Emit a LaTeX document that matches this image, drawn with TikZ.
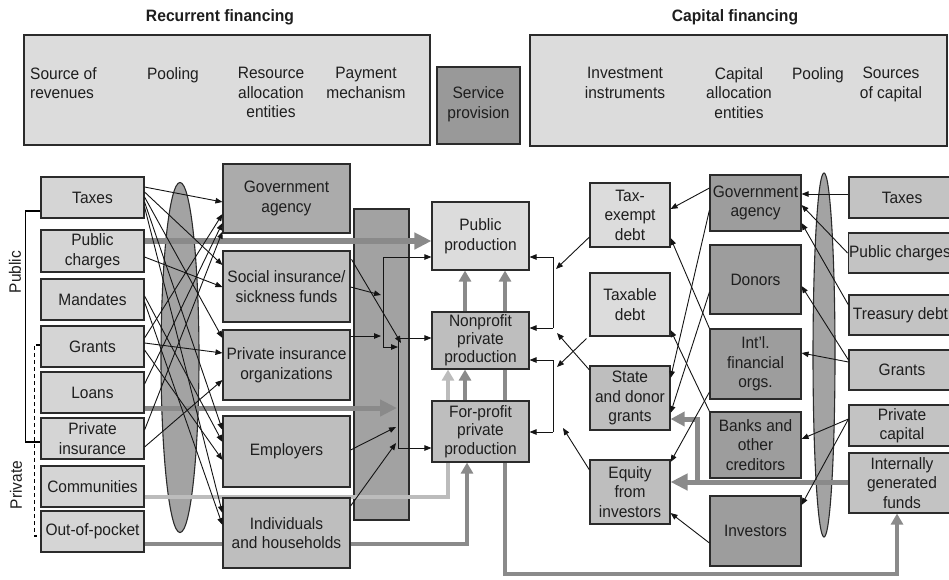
\documentclass[tikz,border=0pt]{standalone}
\usepackage{fontspec}
\setmainfont{Liberation Sans}[FakeStretch=0.94]
\newfontfamily\hdfont{Liberation Sans}[FakeStretch=0.95]
\usetikzlibrary{arrows.meta,calc,shapes.geometric}
\pgfdeclarelayer{back}\pgfdeclarelayer{mid}\pgfsetlayers{back,mid,main}
\definecolor{lightf}{HTML}{DCDCDC}
\definecolor{srcl}{HTML}{D5D5D5}
\definecolor{midf}{HTML}{BEBEBE}
\definecolor{allocg}{HTML}{ABABAB}
\definecolor{barf}{HTML}{A2A2A2}
\definecolor{svcf}{HTML}{999999}
\definecolor{cdark}{HTML}{9D9D9D}
\definecolor{rsrc}{HTML}{C3C3C3}
\definecolor{ellf}{HTML}{A3A3A3}
\definecolor{edge}{HTML}{2B2B2B}
\definecolor{gthick}{HTML}{8A8A8A}
\definecolor{glight}{HTML}{BCBCBC}
\definecolor{txt}{HTML}{1E1E1E}
\tikzset{
  bx/.style={draw=edge, line width=1.1pt, inner sep=1pt, align=center, text=txt,
             font=\fontsize{16.5}{19.5}\selectfont},
  sz/.style 2 args={minimum width=#1pt, minimum height=#2pt},
  lbl/.style={inner sep=0pt, align=center, text=txt, font=\fontsize{16.5}{19.5}\selectfont},
  ttl/.style={inner sep=0pt, text=txt, font=\hdfont\bfseries\fontsize{16.5}{19}\selectfont},
  tline/.style={draw=black!92, line width=0.9pt},
  tarrow/.style={tline, -{Triangle[length=7pt,width=5.5pt]}},
  garrow/.style={draw=gthick, line width=5.5pt, -{Triangle[length=17pt,width=16pt]}},
  gup/.style={draw=gthick, line width=4.5pt, -{Triangle[length=11pt,width=12pt]}},
  lup/.style={draw=glight, line width=4pt, -{Triangle[length=11pt,width=12pt]}},
}
\begin{document}
\begin{tikzpicture}[x=1pt,y=-1pt]
\useasboundingbox (0,0) rectangle (949,579);

% ---------- headers ----------
\node[ttl] (rf) at (220,17) {Recurrent financing};
\node[ttl] (cf) at (735,17) {Capital financing};
\node[bx, fill=lightf, sz={406}{110}] (rec) at (227,90) {};
\node[bx, fill=svcf, sz={83}{77}] (svc) at (478.5,105.5) {};
\node[bx, fill=lightf, sz={417}{111}] (cap) at (738.5,90.5) {};
\node[lbl, align=left, anchor=north west] (h1) at (30,67) {Source of\\revenues};
\node[lbl, anchor=north] (h2) at (173,67) {Pooling};
\node[lbl, anchor=north] (h3) at (271,67) {Resource\\allocation\\entities};
\node[lbl, anchor=north] (h4) at (366,67) {Payment\\mechanism};
\node[lbl, anchor=north] (h5) at (478.5,86.5) {Service\\provision};
\node[lbl, anchor=north] (h6) at (625,67) {Investment\\instruments};
\node[lbl, anchor=north] (h7) at (739,67) {Capital\\allocation\\entities};
\node[lbl, anchor=north] (h8) at (818,67) {Pooling};
\node[lbl, anchor=north] (h9) at (891,67) {Sources\\of capital};

% ---------- left sources ----------
\node[bx, fill=srcl, sz={103}{41}] (taxes) at (92.5,197.5) {Taxes};
\node[bx, fill=srcl, sz={103}{42}] (pubch) at (92.5,251) {Public\\charges};
\node[bx, fill=srcl, sz={103}{41}] (mand) at (92.5,299.5) {Mandates};
\node[bx, fill=srcl, sz={103}{41}] (grants) at (92.5,346.5) {Grants};
\node[bx, fill=srcl, sz={103}{41}] (loans) at (92.5,392.5) {Loans};
\node[bx, fill=srcl, sz={103}{41}] (pins) at (92.5,438.5) {Private\\insurance};
\node[bx, fill=srcl, sz={103}{41}] (comm) at (92.5,486.5) {Communities};
\node[bx, fill=srcl, sz={103}{41}] (oop) at (92.5,531.5) {Out-of-pocket};

\node[lbl, rotate=90] (publbl) at (15,272) {Public};
\node[lbl, rotate=90] (privlbl) at (16,485) {Private};
\draw[line width=1.4pt, black] ($(taxes.west)+(0,13.5)$) -- ++(-15,0) |- ($(pins.west)+(0,3.5)$);
\draw[line width=1.2pt, black, dash pattern=on 4pt off 3pt] ($(grants.west)+(0,-1.5)$) -- ++(-6,0) |- ($(oop.west)+(0,4.5)$);

% ---------- resource allocation ----------
\node[bx, fill=allocg, sz={127}{69}] (gova) at (286.5,198.5) {Government\\agency};
\node[bx, fill=midf, sz={127}{71}] (soc) at (286.5,286.5) {Social insurance/\\sickness funds};
\node[bx, fill=midf, sz={127}{70}] (pio) at (286.5,365) {Private insurance\\organizations};
\node[bx, fill=midf, sz={127}{71}] (emp) at (286.5,451.5) {Employers};
\node[bx, fill=midf, sz={127}{70}] (ind) at (286.5,533) {Individuals\\and households};

% ---------- service provision ----------
\node[bx, fill=lightf, sz={97}{68}] (pubp) at (480.5,236) {Public\\production};
\node[bx, fill=midf, sz={97}{57}, font=\fontsize{16.5}{18}\selectfont] (nonp) at (480.5,340.5) {Nonprofit\\private\\production};
\node[bx, fill=midf, sz={97}{61}, font=\fontsize{16.5}{18.5}\selectfont] (forp) at (480.5,431.5) {For-profit\\private\\production};

% ---------- investment instruments ----------
\node[bx, fill=lightf, sz={80}{64}] (texd) at (630,215) {Tax-\\exempt\\debt};
\node[bx, fill=lightf, sz={80}{63}] (txd) at (630,304.5) {Taxable\\debt};
\node[bx, fill=midf, sz={80}{64}] (sdg) at (630,398) {State\\and donor\\grants};
\node[bx, fill=midf, sz={80}{64}] (eqi) at (630,492) {Equity\\from\\investors};

% ---------- capital allocation ----------
\node[bx, fill=cdark, sz={91}{56}] (cgov) at (755.5,203) {Government\\agency};
\node[bx, fill=cdark, sz={91}{69}] (don) at (755.5,279.5) {Donors};
\node[bx, fill=cdark, sz={91}{70}] (intl) at (755.5,364) {Int'l.\\financial\\orgs.};
\node[bx, fill=cdark, sz={91}{66}] (bank) at (755.5,445) {Banks and\\other\\creditors};
\node[bx, fill=cdark, sz={91}{70}] (inv) at (755.5,531) {Investors};

% ---------- sources of capital ----------
\node[bx, fill=rsrc, sz={106}{41}] (rtax) at (902,197.5) {Taxes};
\node[bx, fill=rsrc, sz={106}{40}] (rpub) at (902,253) {Public charges\hspace*{4pt}};
\node[bx, fill=rsrc, sz={106}{40}] (rtre) at (902,315) {Treasury debt\hspace*{3pt}};
\node[bx, fill=rsrc, sz={106}{40}] (rgra) at (902,370) {Grants};
\node[bx, fill=rsrc, sz={106}{41}] (rpri) at (902,425.5) {Private\\capital};
\node[bx, fill=rsrc, sz={106}{60}] (rint) at (902,483) {Internally\\generated\\funds};

% ---------- background: pools and payment bar ----------
\begin{pgfonlayer}{back}
\node[ellipse, draw=edge, line width=1.1pt, fill=ellf, minimum width=38pt, minimum height=350pt, inner sep=0pt] (pool1) at (180,357.5) {};
\node[ellipse, draw=edge, line width=1.1pt, fill=ellf, minimum width=22pt, minimum height=364pt, inner sep=0pt] (pool2) at (824,355) {};
\node[bx, fill=barf, sz={55}{311}] (paybar) at (381.5,364.5) {};
\end{pgfonlayer}

% ---------- thick grey flows ----------
\coordinate (loanend) at (397,408);
\coordinate (botc) at (505,574);
\coordinate (brt) at (697,482);
\begin{pgfonlayer}{mid}
\draw[garrow] ($(pubch.east)+(0,-10)$) -- ($(pubp.west)+(0,5)$);
\draw[garrow, line width=5pt] ($(loans.east)+(0,15.5)$) -- (loanend);
\draw[lup] ($(comm.east)+(0,10.5)$) -| ($(nonp.south)+(-32.5,0)$);
\draw[gup, line width=4pt] ($(oop.east)+(0,12.5)$) -| ($(forp.south)+(-13.5,0)$);
\draw[gup] ($(forp.north)+(-15.5,0)$) -- ($(nonp.south)+(-15.5,0)$);
\draw[gup] ($(nonp.north)+(-15.5,0)$) -- ($(pubp.south)+(-15.5,0)$);
\draw[gup] ($(nonp.north)+(24.5,0)$) -- ($(pubp.south)+(24.5,0)$);
\draw[gup, line width=4pt] (nonp.south -| botc) -- (botc) -| ($(rint.south)+(-5,0)$);
\draw[garrow, line width=5pt] ($(rint.west)+(0,-1)$) -- ($(eqi.east)+(0,-10)$);
\draw[garrow, line width=5pt, -{Triangle[length=14pt,width=14pt]}] (brt) |- ($(sdg.east)+(0,21)$);
\end{pgfonlayer}

% ---------- thin arrows: sources to allocation ----------
\draw[tarrow] ($(taxes.east)+(0,-10.5)$) -- ($(gova.west)+(0,3.5)$);
\draw[tarrow] ($(taxes.east)+(0,-5.5)$) -- ($(soc.west)+(0,-21.5)$);
\draw[tarrow] ($(taxes.east)+(0,-0.5)$) -- ($(pio.west)+(0,-27)$);
\draw[tarrow] ($(taxes.east)+(0,4.5)$) -- ($(emp.west)+(0,-21.5)$);
\draw[tarrow] ($(taxes.east)+(0,9.5)$) -- ($(ind.west)+(0,-20)$);
\draw[tarrow] ($(pubch.east)+(0,6)$) -- ($(soc.west)+(0,0.5)$);
\draw[tarrow] ($(mand.east)+(0,-3.5)$) -- ($(emp.west)+(0,-9.5)$);
\draw[tarrow] ($(mand.east)+(0,2.5)$) -- ($(ind.west)+(0,-8)$);
\draw[tarrow] ($(grants.east)+(0,-8.5)$) -- ($(gova.west)+(0,15.5)$);
\draw[tarrow] ($(grants.east)+(0,-3.5)$) -- ($(pio.west)+(0,-12)$);
\draw[tarrow] ($(grants.east)+(0,3.5)$) -- ($(emp.west)+(0,8.5)$);
\draw[tarrow] ($(loans.east)+(0,-8.5)$) -- ($(gova.west)+(0,24.5)$);
\draw[tarrow] ($(pins.east)+(0,-8.5)$) -- ($(gova.west)+(0,33)$);
\draw[tarrow] ($(pins.east)+(0,8.5)$) -- ($(pio.west)+(0,15)$);

% ---------- thin arrows: payment mechanism ----------
\coordinate (v1t) at (383,257);
\coordinate (v1b) at (383,347);
\coordinate (v2t) at (398,338);
\coordinate (v2b) at (398,448);
\coordinate (socin) at (381,295);
\coordinate (pioin) at (381,336);
\coordinate (diagend) at (401,343);
\coordinate (empin) at (396,427);
\coordinate (indin) at (396,443);
\draw[tline] (v1t) -- (v1b);
\draw[tarrow] (v1t) -- (pubp.west |- v1t);
\draw[tarrow] (v1b) -- (v2t |- v1b);
\draw[tline] (v2t) -- (v2b);
\draw[tarrow] (v2t) -- (nonp.west |- v2t);
\draw[tarrow] (v2b) -- (forp.west |- v2b);
\draw[tarrow] ($(soc.east)+(0,0.5)$) -- (socin);
\draw[tarrow] ($(pio.east)+(0,-29)$) -- (pioin);
\draw[tarrow] ($(soc.north east)+(1,9)$) -- (diagend);
\draw[tarrow] ($(emp.east)+(0,-1.5)$) -- (empin);
\draw[tarrow] ($(ind.east)+(0,-27)$) -- (indin);

% ---------- thin arrows: capital side ----------
\draw[tarrow] ($(rtax.west)+(0,-3.5)$) -- ($(cgov.east)+(0,-9)$);
\draw[tarrow] (rpub.west) -- ($(cgov.east)+(0,2)$);
\draw[tarrow] ($(rtre.west)+(0,-10)$) -- ($(cgov.east)+(0,20)$);
\draw[tarrow] ($(rgra.west)+(0,-10)$) -- ($(don.east)+(0,6.5)$);
\draw[tarrow] ($(rgra.west)+(0,-8)$) -- ($(intl.east)+(0,-11)$);
\draw[tarrow] ($(rpri.west)+(0,-6.5)$) -- ($(bank.east)+(0,-6)$);
\draw[tarrow] ($(rpri.west)+(0,-6.5)$) -- ($(inv.east)+(0,-26)$);
\draw[tarrow] ($(cgov.west)+(0,-15)$) -- ($(texd.east)+(0,-6)$);
\draw[tarrow] ($(cgov.west)+(0,7)$) -- ($(sdg.east)+(0,-20)$);
\draw[tarrow] ($(don.west)+(0,12.5)$) -- ($(sdg.east)+(0,15)$);
\draw[tarrow] ($(intl.west)+(0,28)$) -- ($(eqi.east)+(0,-30)$);
\draw[tarrow] (intl.north west) -- ($(texd.east)+(0,23)$);
\draw[tarrow] (bank.north west) -- ($(txd.east)+(0,25.5)$);
\draw[tarrow] ($(inv.west)+(0,12)$) -- ($(eqi.east)+(0,21)$);

% ---------- instruments to brackets ----------
\coordinate (f1) at (556,269);
\coordinate (f2) at (557,367);
\coordinate (f3) at (557,333);
\coordinate (f4) at (563,428);
\draw[tarrow] ($(texd.west)+(0,22)$) -- (f1);
\draw[tarrow] ($(txd.south west)+(-3,2)$) -- (f2);
\draw[tarrow] ($(sdg.west)+(0,-28)$) -- (f3);
\draw[tarrow] ($(eqi.west)+(0,-22)$) -- (f4);
\coordinate (b1t) at (553,257);
\coordinate (b1b) at (553,328);
\coordinate (b2t) at (553,360);
\coordinate (b2b) at (553,432);
\draw[tline] (b1t) -- (b1b);
\draw[tarrow] (b1t) -- (pubp.east |- b1t);
\draw[tarrow] (b1b) -- (nonp.east |- b1b);
\draw[tline] (b2t) -- (b2b);
\draw[tarrow] (b2t) -- (nonp.east |- b2t);
\draw[tarrow] (b2b) -- (forp.east |- b2b);
\end{tikzpicture}
\end{document}
